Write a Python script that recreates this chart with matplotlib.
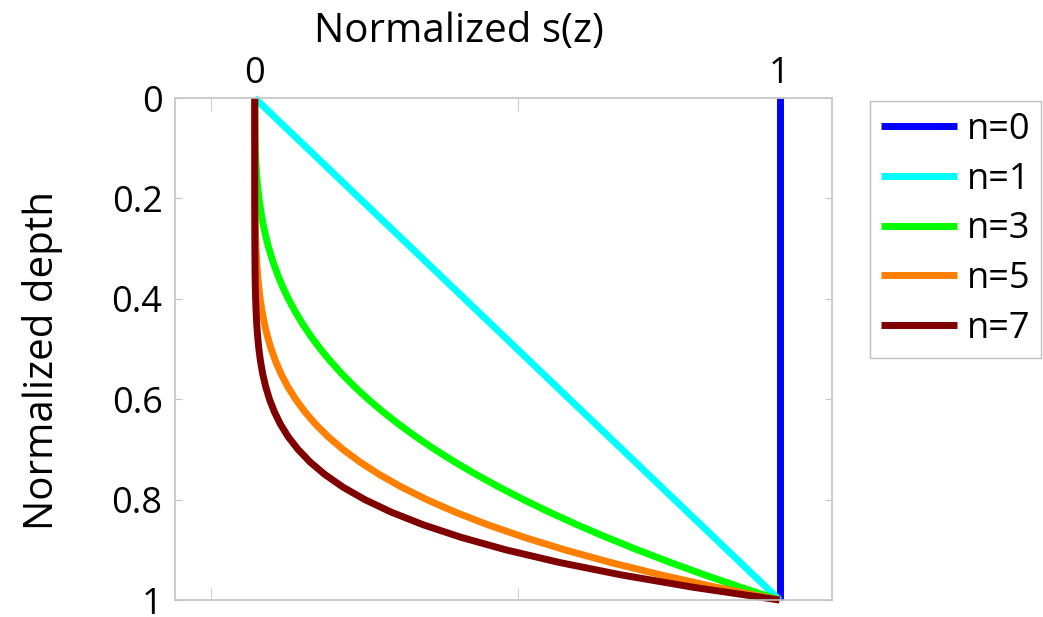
import matplotlib
matplotlib.use('Agg')
import matplotlib.pyplot as plt

plt.rcParams['font.family'] = ['Open Sans', 'DejaVu Sans']

# Глибина (нормована) та значення s(z)
depth = [0, 0.025, 0.05, 0.075, 0.1, 0.125, 0.15, 0.175, 0.2, 0.225,
         0.25, 0.275, 0.3, 0.325, 0.35, 0.375, 0.4, 0.425, 0.45, 0.475,
         0.5, 0.525, 0.55, 0.575, 0.6, 0.625, 0.65, 0.675, 0.7, 0.725,
         0.75, 0.775, 0.8, 0.825, 0.85, 0.875, 0.9, 0.925, 0.95, 0.975, 1.0]
s_n0 = [1.0] * len(depth)
s_n1 = [0, 0.025, 0.05, 0.075, 0.1, 0.125, 0.15, 0.175, 0.2, 0.225,
        0.25, 0.275, 0.3, 0.325, 0.35, 0.375, 0.4, 0.425, 0.45, 0.475,
        0.5, 0.525, 0.55, 0.575, 0.6, 0.625, 0.65, 0.675, 0.7, 0.725,
        0.75, 0.775, 0.8, 0.825, 0.85, 0.875, 0.9, 0.925, 0.95, 0.975, 1.0]
s_n3 = [0, 0.0, 0.0001, 0.0004, 0.001, 0.002, 0.0034, 0.0054, 0.008, 0.0114,
        0.0156, 0.0208, 0.027, 0.0343, 0.0429, 0.0527, 0.064, 0.0768, 0.0911, 0.1072,
        0.125, 0.1447, 0.1664, 0.1901, 0.216, 0.2441, 0.2746, 0.3075, 0.343, 0.3811,
        0.4219, 0.4655, 0.512, 0.5615, 0.6141, 0.6699, 0.729, 0.7915, 0.8574, 0.9269, 1.0]
s_n5 = [0, 0, 0, 0, 0.0, 0.0001, 0.0001, 0.0002, 0.0003, 0.0006,
        0.001, 0.0016, 0.0024, 0.0036, 0.0053, 0.0074, 0.0102, 0.0139, 0.0185, 0.0242,
        0.0313, 0.0399, 0.0503, 0.0629, 0.0778, 0.0954, 0.116, 0.1401, 0.1681, 0.2003,
        0.2373, 0.2796, 0.3277, 0.3822, 0.4437, 0.5129, 0.5905, 0.6772, 0.7738, 0.8811, 1.0]
s_n7 = [0, 0, 0, 0, 0, 0, 0, 0, 0.0, 0.0,
        0.0001, 0.0001, 0.0002, 0.0004, 0.0006, 0.001, 0.0016, 0.0025, 0.0037, 0.0055,
        0.0078, 0.011, 0.0152, 0.0208, 0.028, 0.0373, 0.049, 0.0638, 0.0824, 0.1053,
        0.1335, 0.1679, 0.2097, 0.2601, 0.3206, 0.3927, 0.4783, 0.5794, 0.6983, 0.8376, 1.0]

labels = ['n=0', 'n=1', 'n=3', 'n=5', 'n=7']
colors = ['#0000ff', '#00ffff', '#00ff00', '#ff8000', '#800000']
series = [s_n0, s_n1, s_n3, s_n5, s_n7]

fig = plt.figure(figsize=(10.43, 6.17), dpi=100)
ax = fig.add_axes([175 / 1043, 1 - 600 / 617, (832 - 175) / 1043, (600 - 98) / 617])

for s, c, lab in zip(series, colors, labels):
    ax.plot(s, depth, color=c, linewidth=5, label=lab, solid_capstyle='butt', clip_on=False)

ax.set_xlim(-0.152, 1.1)
ax.set_ylim(1, 0)

# Осі
for sp in ax.spines.values():
    sp.set_color('#c4c4c4')
    sp.set_linewidth(1.2)

ax.xaxis.tick_top()
ax.set_xticks([0, 1])
ax.set_xticklabels(['0', '1'])
ax.set_xticks([-0.084, 0.501], minor=True)
ax.tick_params(axis='x', which='major', length=0, pad=4, labelsize=26)
ax.tick_params(axis='x', which='minor', direction='in', length=9, color='#c4c4c4',
               top=True, bottom=True)

ax.set_yticks([0, 0.2, 0.4, 0.6, 0.8, 1])
ax.set_yticklabels(['0', '0.2', '0.4', '0.6', '0.8', '1'])
ax.tick_params(axis='y', direction='in', length=5, color='#c4c4c4', left=True, right=True,
               pad=9, labelsize=26)

fig.text(459 / 1043, 1 - 32 / 617, 'Normalized s(z)', ha='center', va='center', fontsize=29)
fig.text(43 / 1043, 1 - 361 / 617, 'Normalized depth', ha='center', va='center',
         rotation=90, fontsize=29)

leg = ax.legend(loc='upper left', bbox_to_anchor=(870 / 1043, 1 - 101 / 617),
                bbox_transform=fig.transFigure, borderaxespad=0, fontsize=26,
                handlelength=2.1, handletextpad=0.28, labelspacing=0.38,
                borderpad=0.3, fancybox=False, frameon=True)
leg.get_frame().set_edgecolor('#b0b0b0')
leg.get_frame().set_linewidth(1.0)
for line in leg.get_lines():
    line.set_linewidth(5)

fig.savefig('out.png', dpi=100)
